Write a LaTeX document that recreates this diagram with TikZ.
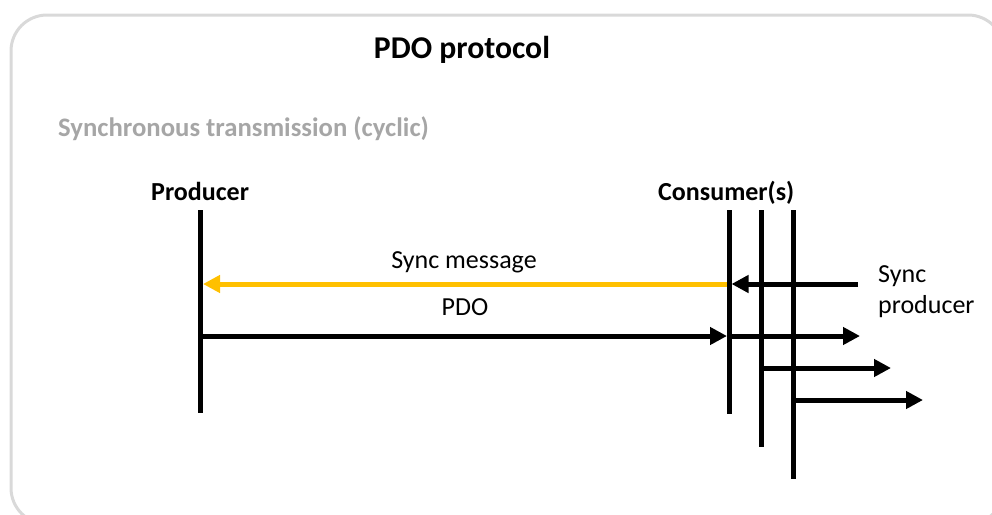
\documentclass[tikz,border=0pt]{standalone}
\usepackage{fontspec}
\setmainfont{Carlito}
\usetikzlibrary{arrows.meta}
\definecolor{framegray}{HTML}{D9D9D9}
\definecolor{headgray}{HTML}{A6A6A6}
\definecolor{syncyellow}{HTML}{FFC000}
\tikzset{
  lifeline/.style={line width=5pt, black},
  msg/.style={line width=5pt, black, -{Triangle[length=17pt,width=17pt]}},
  syncmsg/.style={msg, syncyellow},
  lbl/.style={inner sep=0pt, font=\fontsize{26}{31}\selectfont},
  boldlbl/.style={inner sep=0pt, font=\fontsize{26}{31}\selectfont\bfseries},
}
\begin{document}
\begin{tikzpicture}[x=1pt,y=-1pt]
\useasboundingbox (0,0) rectangle (992,514);
% frame
\draw[framegray, line width=3pt, rounded corners=36pt] (11,15) rectangle (1004,524);
% titles
\node[inner sep=0pt, anchor=base, font=\fontsize{31.7}{36}\selectfont\bfseries] (title) at (462,58) {PDO protocol};
\node[inner sep=0pt, anchor=base west, text=headgray, font=\fontsize{26.7}{31}\selectfont\bfseries] (head) at (58,136) {Synchronous transmission (cyclic)};
\node[boldlbl, anchor=base west] (prodlbl) at (151,200) {Producer};
\node[boldlbl, anchor=base west] (conslbl) at (658,200) {Consumer(s)};
% lifelines
\coordinate (pt) at (200,210); \coordinate (pb) at (200,413);
\coordinate (c1t) at (729,210); \coordinate (c1b) at (729,414);
\coordinate (c2t) at (761,210); \coordinate (c2b) at (761,447);
\coordinate (c3t) at (793,210); \coordinate (c3b) at (793,479);
\draw[lifeline] (pt) -- (pb);
\draw[lifeline] (c1t) -- (c1b);
\draw[lifeline] (c2t) -- (c2b);
\draw[lifeline] (c3t) -- (c3b);
% arrow endpoints
\coordinate (sy0) at (727,284); \coordinate (sy1) at (203,284);
\coordinate (sp0) at (858,284); \coordinate (sp1) at (731.5,284);
\coordinate (pd0) at (202.5,336); \coordinate (pd1) at (727,336);
\coordinate (o10) at (731,336); \coordinate (o11) at (860,336);
\coordinate (o20) at (763,368); \coordinate (o21) at (891,368);
\coordinate (o30) at (795,400); \coordinate (o31) at (923,400);
\draw[syncmsg] (sy0) -- (sy1);
\draw[msg] (sp0) -- (sp1);
\draw[msg] (pd0) -- (pd1);
\draw[msg] (o10) -- (o11);
\draw[msg] (o20) -- (o21);
\draw[msg] (o30) -- (o31);
% labels
\node[lbl, anchor=base] (synclbl) at (464,268) {Sync message};
\node[lbl, anchor=base] (pdolbl) at (465,315) {PDO};
\node[lbl, anchor=base west, align=left] (sprod) at (878,313) {Sync\\producer};
\end{tikzpicture}
\end{document}
